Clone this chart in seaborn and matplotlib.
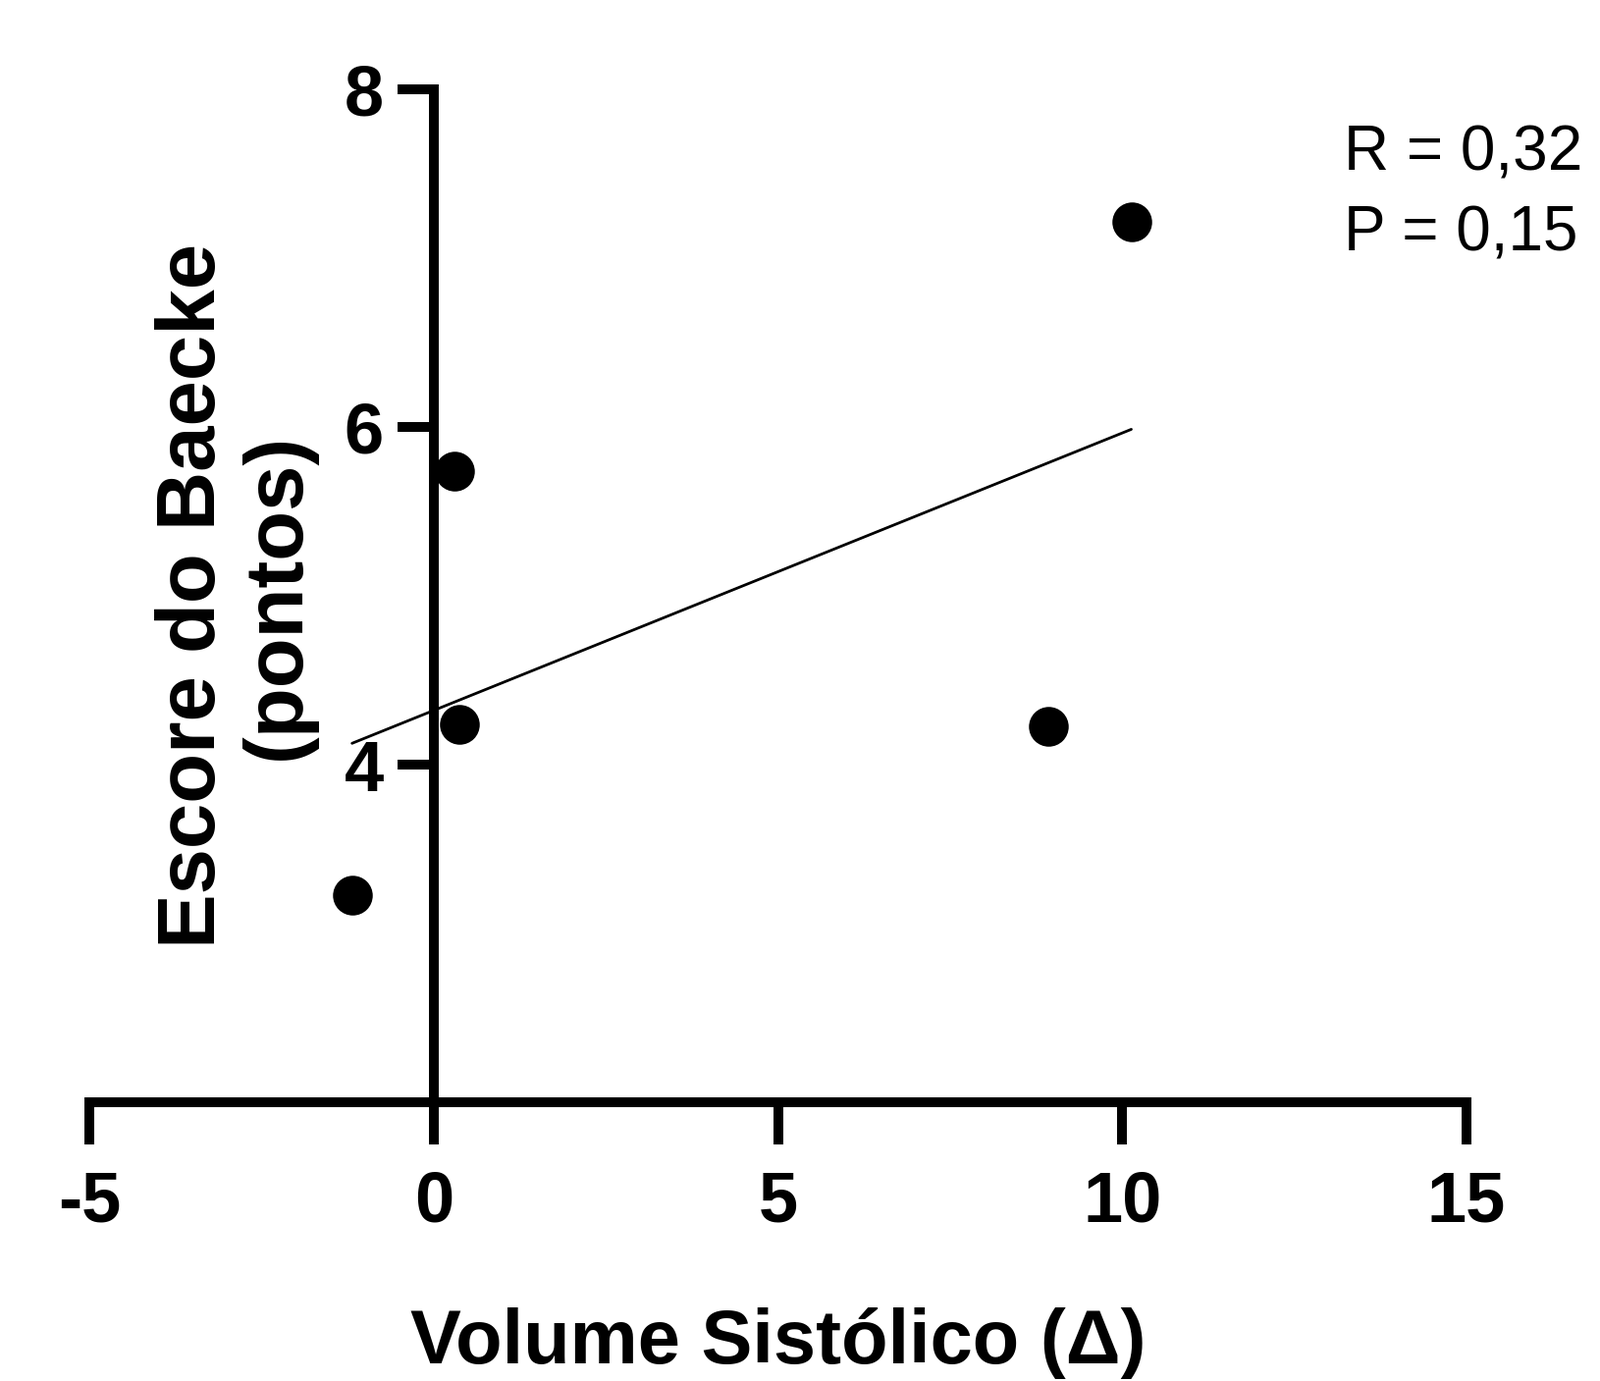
import numpy as np
import matplotlib
matplotlib.use("Agg")
import matplotlib.pyplot as plt
import seaborn as sns

# values
volume_sistolico = [-1.19, 0.30, 0.37, 8.92, 10.13]
escore_baecke = [3.23, 5.74, 4.24, 4.23, 7.22]
x_ticks = [-5, 0, 5, 10, 15]
y_ticks = [4, 6, 8]
stats_lines = ["R = 0,32", "P = 0,15"]

sns.set_style("ticks")
plt.rcParams["font.family"] = ["Liberation Sans", "DejaVu Sans"]
plt.rcParams["axes.unicode_minus"] = False
for key in ["text.color", "axes.labelcolor", "xtick.color", "ytick.color", "axes.edgecolor"]:
    plt.rcParams[key] = "black"

fig = plt.figure(figsize=(16.3, 14.07), dpi=100)
ax = fig.add_axes([0.0561, 0.2018, 0.8605, 0.7332])

sns.regplot(x=volume_sistolico, y=escore_baecke, ci=None, truncate=True, ax=ax,
            scatter_kws={"s": 850, "color": "black", "alpha": 1, "zorder": 3, "linewidths": 0},
            line_kws={"color": "black", "lw": 2.0, "zorder": 2})

ax.set_xlim(-5, 15)
ax.set_ylim(2, 8)
ax.set_xticks(x_ticks)
ax.set_yticks(y_ticks)

for side in ["top", "right"]:
    ax.spines[side].set_visible(False)
ax.spines["left"].set_position(("data", 0))
for side in ["left", "bottom"]:
    ax.spines[side].set_linewidth(7.2)
    ax.spines[side].set_capstyle("projecting")

ax.tick_params(axis="x", length=31, width=7.2, pad=18, labelsize=52)
ax.tick_params(axis="y", length=27, width=7.2, pad=10, labelsize=52)
for lab in ax.get_xticklabels() + ax.get_yticklabels():
    lab.set_fontweight("bold")

ax.set_xlabel("Volume Sistólico (Δ)", fontsize=56, fontweight="bold")
ax.xaxis.set_label_coords(0.5, -0.203)
ax.set_ylabel("Escore do Baecke\n(pontos)", fontsize=60, fontweight="bold",
              linespacing=1.12)
ax.yaxis.set_label_coords(0.164, 0.5)

# correlation statistics, one line each
for i, line in enumerate(stats_lines):
    fig.text(0.840, 0.877 - i * 0.0583, line, fontsize=46, ha="left", va="baseline")

fig.savefig("out.png", dpi=100, facecolor="white")
